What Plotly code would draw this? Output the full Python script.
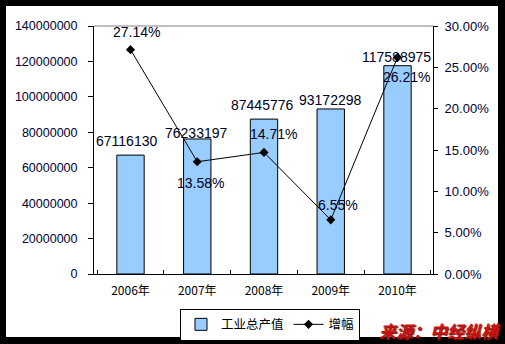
import plotly.graph_objects as go

years = ["2006年", "2007年", "2008年", "2009年", "2010年"]
output_value = [67116130, 76233197, 87445776, 93172298, 117588975]
growth = [0.2714, 0.1358, 0.1471, 0.0655, 0.2621]
growth_labels = ["27.14%", "13.58%", "14.71%", "6.55%", "26.21%"]

# label offsets (px) - styling only
bar_lbl_shift = [(-4, 14), (-1, 6), (-2, 14), (0, 9), (-1, 9)]
pct_lbl_shift = [(6, 18), (3, -21), (9, 18), (7, 15), (9, -20)]

FONT = "Liberation Sans, Arial, Noto Sans CJK SC, sans-serif"
CJK = "Noto Sans CJK SC, Liberation Sans, sans-serif"

fig = go.Figure()
fig.add_trace(go.Bar(
    x=years, y=output_value, name="工业总产值",
    marker=dict(color="#99CCFF", line=dict(color="black", width=1)),
    yaxis="y",
))
fig.add_trace(go.Scatter(
    x=years, y=growth, name="增幅", mode="lines+markers",
    line=dict(color="black", width=1),
    marker=dict(symbol="diamond", size=7, color="black"),
    yaxis="y2",
))

ann = []
for i, (yr, v) in enumerate(zip(years, output_value)):
    dx, dy = bar_lbl_shift[i]
    ann.append(dict(x=yr, y=v, xref="x", yref="y", text=str(v), showarrow=False,
                    xshift=dx, yshift=dy, font=dict(family=FONT, size=14, color="#000020")))
for i, (yr, g) in enumerate(zip(years, growth)):
    dx, dy = pct_lbl_shift[i]
    ann.append(dict(x=yr, y=g, xref="x", yref="y2", text=growth_labels[i], showarrow=False,
                    xshift=dx, yshift=dy, font=dict(family=FONT, size=14, color="#000020")))
ann.append(dict(x=1.0206, y=-0.226, xref="paper", yref="paper", text="<b><i>来源：中经纵横</i></b>",
                showarrow=False, xanchor="center", yanchor="middle",
                font=dict(family=CJK, size=17, color="#CC1111", shadow="1px 1px 1px #551111")))

fig.update_layout(
    width=505, height=344,
    margin=dict(l=94, r=72, t=26, b=70, autoexpand=False),
    paper_bgcolor="black", plot_bgcolor="white",
    bargap=0.59,
    showlegend=True,
    legend=dict(orientation="h", x=0.2537, y=-0.14, xanchor="left", yanchor="top",
                bordercolor="black", borderwidth=1, bgcolor="white",
                font=dict(family=CJK, size=12.5, color="black"),
                itemwidth=30, tracegroupgap=0),
    xaxis=dict(type="category", showline=True, linecolor="black", linewidth=1,
               ticks="inside", ticklen=4, tickcolor="black", tickson="boundaries",
               tickfont=dict(family=CJK, size=12, color="black"),
               ticklabelstandoff=6, showgrid=False, zeroline=False),
    yaxis=dict(range=[0, 140000000], dtick=20000000, tickformat="d",
               showline=True, linecolor="black", linewidth=1,
               ticks="outside", ticklen=5, tickcolor="black",
               tickfont=dict(family=FONT, size=12.5, color="#000033"),
               ticklabelstandoff=8, showgrid=False, zeroline=False),
    yaxis2=dict(range=[0, 0.30], dtick=0.05, tickformat=".2%", overlaying="y", side="right",
                showline=True, linecolor="black", linewidth=1,
                ticks="outside", ticklen=4, tickcolor="black",
                tickfont=dict(family=FONT, size=13, color="#000033"),
                ticklabelstandoff=4, showgrid=False, zeroline=False),
    annotations=ann,
    shapes=[
        dict(type="rect", xref="paper", yref="paper", x0=-0.2596, x1=1.1917, y0=-0.254, y1=1.0806,
             fillcolor="white", line=dict(width=0), layer="below"),
        dict(type="line", xref="paper", yref="paper", x0=0, x1=1, y0=1, y1=1,
             line=dict(color="#808080", width=1)),
    ],
)

fig.write_html("out.html")
